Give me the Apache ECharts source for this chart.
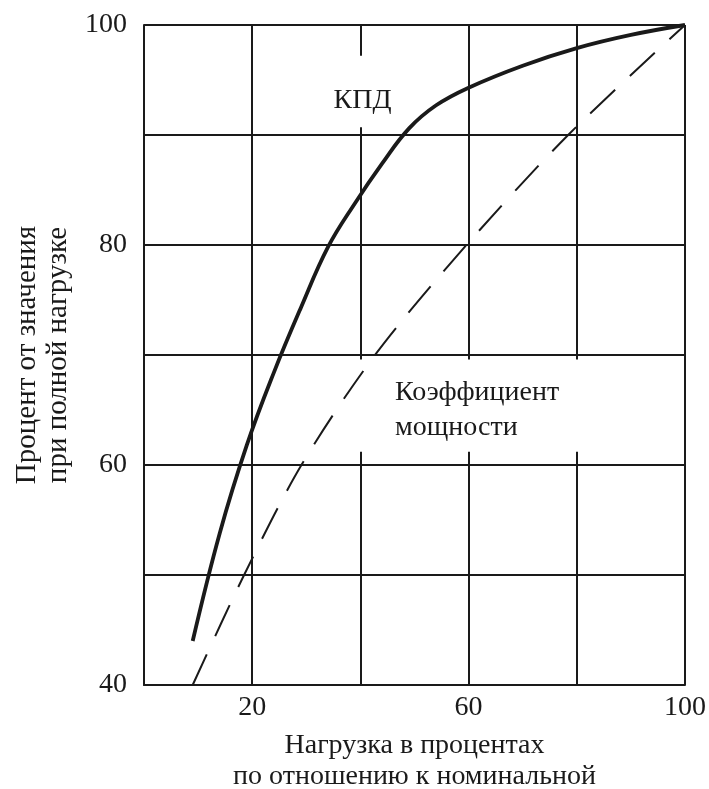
<!DOCTYPE html>
<html>
  <head>
    <meta charset="utf-8" />
    <title>КПД и коэффициент мощности</title>
    <style type="text/css">
      html, body { margin: 0; padding: 0; background: #fff; }
      #main { width: 709px; height: 789px; }
    </style>
    <script type="text/javascript" src="https://cdn.jsdelivr.net/npm/echarts@6/dist/echarts.min.js"></script>
  </head>
  <body>
    <div id="main"></div>
    <script type="text/javascript">
    // нагрузка, % от номинальной -> КПД, % от значения при полной нагрузке
    var effLoad  = [9, 14, 19, 24, 29, 34, 39, 44, 49, 54, 60, 70, 80, 90, 100];
    var effValue = [44, 53.8, 61.8, 68.4, 74.3, 79.8, 83.8, 87.4, 90.6, 92.7, 94.3, 96.3, 97.9, 99.1, 100];

    // коэффициент мощности
    var pfLoad  = [9, 18.5, 29.1, 42.7, 59.6, 78.4, 100];
    var pfValue = [40, 50, 60, 70, 80, 90, 100];

    var xLabels = [20, 60, 100];
    var yLabels = [40, 60, 80, 100];

    var ink = '#1a1a1a';
    var serif = 'Liberation Serif';

    function pairs(xs, ys) {
      var out = [];
      for (var i = 0; i < xs.length; i++) out.push([xs[i], ys[i]]);
      return out;
    }

    var dom = document.getElementById('main');
    var myChart = echarts.init(dom, null, { renderer: 'canvas' });

    var option = {
      backgroundColor: '#fff',
      animation: false,
      grid: { left: 144, right: 24, top: 25, bottom: 104, containLabel: false, outerBoundsMode: 'none' },
      xAxis: {
        type: 'value',
        min: 0,
        max: 100,
        interval: 20,
        name: 'Нагрузка в процентах\nпо отношению к номинальной',
        nameLocation: 'middle',
        nameGap: 45,
        nameTextStyle: { fontFamily: serif, fontSize: 28, color: ink, lineHeight: 31 },
        axisLine: { show: true, lineStyle: { color: ink, width: 2 } },
        axisTick: { show: false },
        axisLabel: {
          fontFamily: serif, fontSize: 28, color: ink, margin: 9,
          formatter: function (v) { return xLabels.indexOf(v) >= 0 ? String(v) : ''; }
        },
        splitLine: { show: true, lineStyle: { color: ink, width: 2 } }
      },
      yAxis: {
        type: 'value',
        min: 40,
        max: 100,
        interval: 10,
        name: 'Процент от значения\nпри полной нагрузке',
        nameLocation: 'middle',
        nameRotate: 90,
        nameGap: 70,
        nameTextStyle: { fontFamily: serif, fontSize: 29, color: ink, lineHeight: 31 },
        axisLine: { show: true, lineStyle: { color: ink, width: 2 } },
        axisTick: { show: false },
        axisLabel: {
          fontFamily: serif, fontSize: 28, color: ink, margin: 17,
          formatter: function (v) { return yLabels.indexOf(v) >= 0 ? String(v) : ''; }
        },
        splitLine: { show: true, lineStyle: { color: ink, width: 2 } }
      },
      series: [
        {
          name: 'КПД',
          type: 'line',
          data: pairs(effLoad, effValue),
          smooth: 0.4,
          showSymbol: false,
          z: 3,
          lineStyle: { color: ink, width: 3.8 }
        },
        {
          name: 'Коэффициент мощности',
          type: 'line',
          data: pairs(pfLoad, pfValue),
          smooth: 0.3,
          showSymbol: false,
          z: 3,
          lineStyle: { color: ink, width: 2, type: [34, 20] }
        }
      ]
    };

    myChart.setOption(option);

    // белые подложки под подписями (в оригинале сетка под текстом прервана)
    function box(x0, y0, x1, y1) {
      var a = myChart.convertToPixel({ gridIndex: 0 }, [x0, y1]);
      var b = myChart.convertToPixel({ gridIndex: 0 }, [x1, y0]);
      return {
        type: 'rect', z: 1,
        shape: { x: a[0], y: a[1], width: b[0] - a[0], height: b[1] - a[1] },
        style: { fill: '#fff' }
      };
    }
    var p1 = myChart.convertToPixel({ gridIndex: 0 }, [40.4, 93.1]);
    var p2 = myChart.convertToPixel({ gridIndex: 0 }, [46.4, 65.0]);

    myChart.setOption({
      graphic: [
        box(38.6, 90.7, 41.4, 97.2),
        box(37.5, 61.2, 86, 69.6),
        {
          type: 'text', z: 4, x: p1[0], y: p1[1],
          style: { text: 'КПД', fontFamily: serif, fontSize: 28, fill: ink, align: 'center', verticalAlign: 'middle' }
        },
        {
          type: 'text', z: 4, x: p2[0], y: p2[1],
          style: {
            text: 'Коэффициент\nмощности', fontFamily: serif, fontSize: 28, fill: ink,
            lineHeight: 35, align: 'left', verticalAlign: 'middle'
          }
        }
      ]
    });
    </script>
  </body>
</html>
